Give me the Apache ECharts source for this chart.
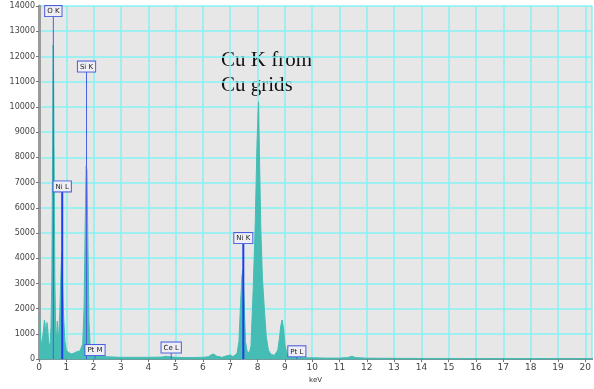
<!DOCTYPE html>
<html>
<head>
<meta charset="utf-8">
<style>
  html, body { margin: 0; padding: 0; background: #ffffff; }
  #chart { width: 594px; height: 389px; }
</style>
<script src="https://cdn.jsdelivr.net/npm/echarts@6/dist/echarts.min.js"></script>
</head>
<body>
<div id="chart"></div>
<script>
// EDS spectrum: energy (keV) and counts
const energyKeV = [
  0.00, 0.03, 0.06, 0.09, 0.12, 0.16, 0.20, 0.23, 0.26, 0.29, 0.32, 0.35, 0.38, 0.41, 0.44,
  0.47, 0.50, 0.515, 0.53, 0.55, 0.58, 0.61, 0.64, 0.67, 0.70, 0.73, 0.76, 0.80, 0.83, 0.86, 0.90,
  0.95, 1.00, 1.10, 1.20, 1.30, 1.40, 1.50, 1.55, 1.60, 1.65, 1.69, 1.725, 1.755, 1.79, 1.83, 1.88,
  1.95, 2.05, 2.20, 2.50, 3.00, 3.50, 4.00, 4.50, 4.65, 4.80, 5.00, 5.50, 6.00, 6.20, 6.30,
  6.40, 6.50, 6.70, 6.90, 7.00, 7.10, 7.25, 7.32, 7.38, 7.43, 7.47, 7.51, 7.56, 7.62, 7.70,
  7.76, 7.84, 7.92, 7.98, 8.02, 8.04, 8.07, 8.12, 8.18, 8.25, 8.32, 8.40, 8.50, 8.62, 8.74,
  8.80, 8.85, 8.90, 8.95, 9.01, 9.08, 9.20, 9.40, 9.70, 10.00, 10.50, 11.00, 11.30, 11.45, 11.60,
  12.00, 13.00, 14.00, 15.00, 16.00, 17.00, 18.00, 19.00, 20.00, 20.25
];
const counts = [
  1850, 1700, 900, 600, 700, 1100, 1550, 1300, 900, 1450, 1200, 700, 500, 650, 1300,
  3300, 9000, 12450, 12200, 8500, 3200, 1200, 800, 1500, 900, 1100, 1800, 3300, 4200, 3000, 1700,
  700, 350, 250, 200, 250, 300, 320, 260, 600, 2000, 5200, 7650, 7500, 4600, 1500, 350,
  150, 170, 120, 90, 70, 70, 70, 80, 110, 90, 70, 60, 70, 90, 170,
  200, 120, 70, 140, 160, 100, 220, 700, 2200, 3300, 3550, 2300, 700, 300, 250,
  500, 2700, 5500, 8500, 9800, 10200, 8200, 5200, 3200, 2000, 900, 350, 180, 150, 350,
  800, 1300, 1550, 1250, 550, 200, 100, 70, 55, 50, 40, 40, 60, 110, 60,
  35, 30, 25, 25, 22, 20, 20, 18, 15, 15
];

// Element line markers
const markerNames = ['O K', 'Si K', 'Ni L', 'Ni K', 'Pt M', 'Ce L', 'Pt L'];
const markerKeV   = [0.525, 1.74, 0.85, 7.48, 2.05, 4.84, 9.44];
const markerTop   = [13600, 11400, 6650, 4600, 160, 260, 110];
const markerWidth = [1, 1, 2, 2, 1, 1, 1];

const spectrum = energyKeV.map((e, i) => [e, counts[i]]);
const markers = markerNames.map((n, i) => [markerKeV[i], markerTop[i], i]);

const chart = echarts.init(document.getElementById('chart'), null, { renderer: 'canvas' });

const cyan = '#86f2f2';
const axisGray = '#9a9a9a';

chart.setOption({
  animation: false,
  backgroundColor: '#ffffff',
  grid: {
    left: 39, right: 0, top: 6, bottom: 23,
    show: true, backgroundColor: '#e7e7e7', borderWidth: 0
  },
  xAxis: [{
    type: 'value', min: 0, max: 20.25, interval: 1,
    name: 'keV', nameLocation: 'middle', nameGap: 15,
    nameTextStyle: { fontSize: 7, color: '#333', fontFamily: 'DejaVu Sans' },
    axisLine: { show: true, onZero: false, lineStyle: { color: axisGray, width: 2 } },
    axisTick: { show: true, length: 3, lineStyle: { color: '#777' } },
    axisLabel: {
      fontSize: 9, color: '#444', margin: 4, fontFamily: 'DejaVu Sans',
      showMaxLabel: false,
      formatter: v => (Number.isInteger(v) ? String(v) : '')
    },
    splitLine: { show: true, lineStyle: { color: cyan, width: 1.5 } }
  }, {
    type: 'value', min: 0, max: 20.25, position: 'top',
    axisLine: { show: true, lineStyle: { color: '#6e9e9e', width: 2 } },
    axisTick: { show: false }, axisLabel: { show: false }, splitLine: { show: false }
  }],
  yAxis: {
    type: 'value', min: 0, max: 14000, interval: 1000,
    axisLine: { show: true, lineStyle: { color: axisGray, width: 3 } },
    axisTick: { show: true, length: 3, lineStyle: { color: '#777' } },
    axisLabel: {
      fontSize: 8, color: '#444', margin: 4, fontFamily: 'DejaVu Sans',
      formatter: v => String(v)
    },
    splitLine: { show: true, lineStyle: { color: cyan, width: 1.5 } }
  },
  graphic: [{
    type: 'text', left: 221, top: 48, silent: true,
    style: {
      text: 'Cu K from\nCu grids',
      font: '21px "Liberation Serif"',
      lineHeight: 25,
      fill: '#111'
    }
  }],
  series: [{
    type: 'line',
    data: spectrum,
    symbol: 'none',
    smooth: false,
    lineStyle: { color: '#45bdb4', width: 1 },
    areaStyle: { color: '#45bdb4', opacity: 1 },
    z: 2
  }, {
    type: 'custom',
    data: markers,
    z: 3,
    renderItem: (params, api) => {
      const x = api.value(0), top = api.value(1), idx = api.value(2);
      const p0 = api.coord([x, 0]);
      const p1 = api.coord([x, top]);
      return {
        type: 'group',
        children: [{
          type: 'line',
          shape: { x1: p0[0], y1: p0[1], x2: p1[0], y2: p1[1] },
          style: { stroke: markerWidth[idx] > 1 ? '#1f3cf0' : '#4a5fe0', lineWidth: markerWidth[idx] }
        }, {
          type: 'text',
          x: p1[0], y: p1[1],
          style: {
            text: markerNames[idx],
            font: '7px "DejaVu Sans"',
            fill: '#222',
            align: 'center',
            verticalAlign: 'bottom',
            backgroundColor: '#eeeef4',
            borderColor: '#4a5fe0',
            borderWidth: 1,
            padding: [2, 2, 1, 2]
          }
        }]
      };
    }
  }]
});
</script>
</body>
</html>
